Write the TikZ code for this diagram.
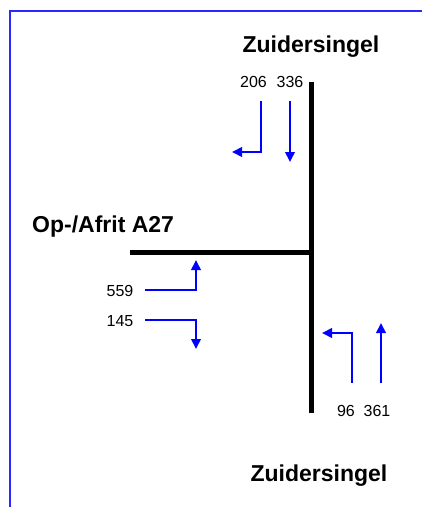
\documentclass[tikz,border=0pt]{standalone}
\usepackage{fontspec}
\setmainfont{Liberation Sans}
\usetikzlibrary{arrows.meta}
\definecolor{flowblue}{RGB}{0,0,255}
\definecolor{frameblue}{RGB}{40,40,255}

\begin{document}
\begin{tikzpicture}[
  x=1pt, y=-1pt,
  road/.style={line width=5pt, draw=black},
  streetname/.style={font=\bfseries\fontsize{23}{26}\selectfont, inner sep=0pt, anchor=base},
  count/.style={font=\fontsize{16}{18}\selectfont, inner sep=0pt, anchor=base},
  arr/.style={-{Triangle[length=10pt,width=9.5pt]}, line width=2pt, draw=flowblue}
]
\useasboundingbox (0,0) rectangle (422,507);
\draw[frameblue, line width=1.5pt] (10,507) -- (10,11) -- (422,11);
% roads
\coordinate (north) at (311,82);
\coordinate (south) at (311,413);
\coordinate (west) at (130,252);
\coordinate (junction) at (311,252);
\draw[road] (north) -- (south);
\draw[road] (west) -- (junction);
% street names
\node[streetname] (zn) at (311,52) {Zuidersingel};
\node[streetname, anchor=base west] (a27) at (32,232) {Op-/Afrit A27};
\node[streetname] (zs) at (319,481) {Zuidersingel};
% counts
\node[count] (c206) at (253.5,87) {206};
\node[count] (c336) at (290,87) {336};
\node[count] (c559) at (120,296) {559};
\node[count] (c145) at (120,326) {145};
\node[count] (c96) at (346,416) {96};
\node[count] (c361) at (377,416) {361};
% flow arrows
\coordinate (f206) at (261,101);  \coordinate (t206) at (232,152);
\coordinate (f336) at (290,101);  \coordinate (t336) at (290,162);
\coordinate (f559) at (145,290);  \coordinate (t559) at (196,260);
\coordinate (f145) at (145,320);  \coordinate (t145) at (196,349);
\coordinate (f96) at (352,383);   \coordinate (t96) at (322,333);
\coordinate (f361) at (381,383);  \coordinate (t361) at (381,323);
\draw[arr] (f206) |- (t206);
\draw[arr] (f336) -- (t336);
\draw[arr] (f559) -| (t559);
\draw[arr] (f145) -| (t145);
\draw[arr] (f96) |- (t96);
\draw[arr] (f361) -- (t361);
\end{tikzpicture}
\end{document}
